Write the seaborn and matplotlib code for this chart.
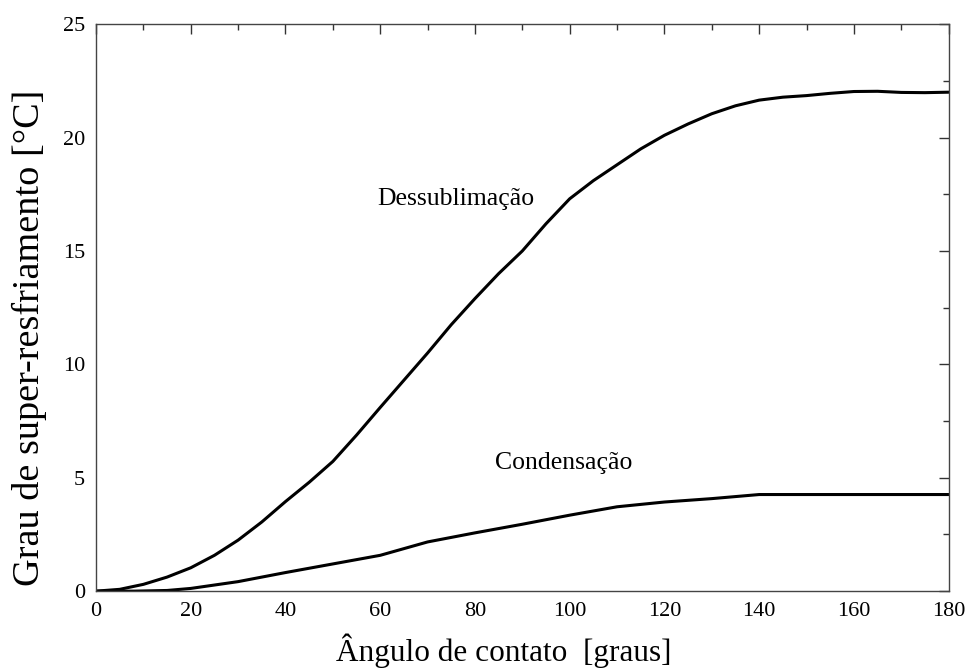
import numpy as np
import pandas as pd
import matplotlib
matplotlib.use("Agg")
import matplotlib.pyplot as plt
from matplotlib.ticker import MultipleLocator
import seaborn as sns

# Contact angle [degrees] and supercooling degree [°C] for each process
angulo_dess = [0, 5, 10, 15, 20, 25, 30, 35, 40, 45, 50, 55, 60, 65, 70, 75, 80,
               85, 90, 95, 100, 105, 110, 115, 120, 125, 130, 135, 140, 145, 150,
               155, 160, 165, 170, 175, 180]
dessublimacao = [0.0, 0.08, 0.3, 0.62, 1.03, 1.58, 2.25, 3.05, 3.95, 4.8, 5.72, 6.88,
                 8.1, 9.3, 10.5, 11.75, 12.9, 14.0, 15.0, 16.2, 17.3, 18.1, 18.8,
                 19.5, 20.1, 20.6, 21.05, 21.4, 21.65, 21.78, 21.85, 21.95, 22.03,
                 22.04, 21.99, 21.98, 22.0]

angulo_cond = [0, 8, 15, 20, 30, 40, 50, 60, 70, 80, 90, 100, 110, 120, 130, 140,
               170, 180]
condensacao = [0.0, 0.0, 0.03, 0.12, 0.42, 0.82, 1.2, 1.58, 2.17, 2.57, 2.95, 3.35,
               3.72, 3.93, 4.08, 4.26, 4.26, 4.26]

xticks = [0, 20, 40, 60, 80, 100, 120, 140, 160, 180]
yticks = [0, 5, 10, 15, 20, 25]

df = pd.concat([
    pd.DataFrame({"angulo": angulo_dess, "grau": dessublimacao, "processo": "Dessublimação"}),
    pd.DataFrame({"angulo": angulo_cond, "grau": condensacao, "processo": "Condensação"}),
])

sns.set_theme(style="white")
plt.rcParams["font.family"] = ["Liberation Serif", "DejaVu Serif"]

fig = plt.figure(figsize=(9.67, 6.71), dpi=100)
ax = fig.add_axes([0.0993, 0.119, 0.8817, 0.845])

sns.lineplot(data=df, x="angulo", y="grau", units="processo", estimator=None,
             color="black", lw=2.2, ax=ax, legend=False, sort=True)

ax.set_xlim(0, 180)
ax.set_ylim(0, 25)
ax.set_xticks(xticks)
ax.set_yticks(yticks)
ax.xaxis.set_minor_locator(MultipleLocator(10))
ax.yaxis.set_minor_locator(MultipleLocator(2.5))
ax.tick_params(which="both", direction="in", top=True, right=True,
               color="#333333", width=1.0, labelsize=16, labelcolor="black")
ax.tick_params(which="major", length=7, pad=8)
ax.tick_params(which="minor", length=4.5)
for sp in ax.spines.values():
    sp.set_color("#444444")
    sp.set_linewidth(1.0)

ax.set_xlabel("Ângulo de contato  [graus]", fontsize=22.5, color="black")
ax.set_ylabel("Grau de super-resfriamento [°C]", fontsize=27.5, color="black")
ax.xaxis.set_label_coords(0.478, -0.074)
ax.yaxis.set_label_coords(-0.058, 0.446)

ax.text(59.3, 17.3, "Dessublimação", fontsize=18.5, va="center", ha="left", color="black")
ax.text(84.2, 5.64, "Condensação", fontsize=18.5, va="center", ha="left", color="black")

fig.savefig("out.png", dpi=100, facecolor="white")
